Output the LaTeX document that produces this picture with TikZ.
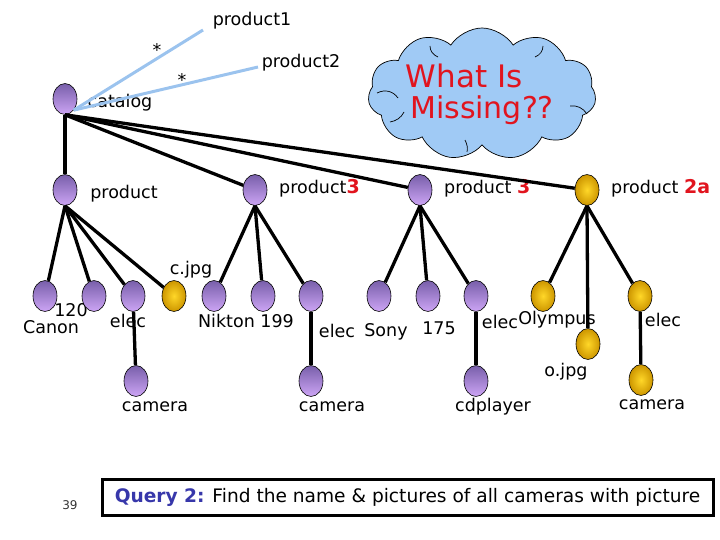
\documentclass[tikz,border=0pt]{standalone}
\usepackage{fontspec}
\setmainfont{DejaVu Sans}
\usetikzlibrary{shapes.geometric,shapes.symbols}
\definecolor{pdark}{RGB}{120,95,170}
\definecolor{plight}{RGB}{205,165,245}
\definecolor{ydark}{RGB}{205,150,0}
\definecolor{ylight}{RGB}{255,215,40}
\definecolor{lblue}{RGB}{155,195,238}
\definecolor{cloudblue}{RGB}{160,202,245}
\definecolor{redtxt}{RGB}{225,20,30}
\definecolor{qblue}{RGB}{55,55,170}
\begin{document}
\begin{tikzpicture}[x=1pt,y=-1pt,
  pnode/.style={ellipse,draw=black,line width=0.6pt,minimum width=24pt,minimum height=31pt,inner sep=0pt,top color=pdark,bottom color=plight},
  ynode/.style={ellipse,draw=black,line width=0.6pt,minimum width=24pt,minimum height=31pt,inner sep=0pt,inner color=ylight,outer color=ydark},
  edge/.style={line width=3.3pt},
  bline/.style={line width=3pt,draw=lblue},
  lab/.style={inner sep=0pt,font=\fontsize{17.5}{19}\selectfont},
  inarc/.style={line width=0.7pt},
]
\useasboundingbox (0,0) rectangle (720,540);
\newcommand{\rd}[1]{\textcolor{redtxt}{\bfseries\fontsize{19}{21}\selectfont #1}}
% labels
\node[lab] (l1) at (252,21) {product1};
\node[lab] (l2) at (301,63) {product2};
\node[lab] (st1) at (157,50) {*};
\node[lab] (st2) at (182,80) {*};
\node[lab] (lcat) at (120,103) {catalog};
\node[lab] (lprod) at (124,194) {product};
\node[lab,anchor=west] (lp3a) at (279,188) {product\rd{3}};
\node[lab,anchor=west] (lp3b) at (444,188) {product \rd{3}};
\node[lab,anchor=west] (lp2a) at (611,188) {product \rd{2a}};
\node[lab] (l120) at (71,310) {120};
\node[lab] (lcanon) at (51,327) {Canon};
\node[lab] (le1) at (128,321) {elec};
\node[lab] (lcj) at (191,270) {c.jpg};
\node[lab] (lnik) at (246,321) {Nikton 199};
\node[lab] (le2) at (337,331) {elec};
\node[lab] (lsony) at (386,332) {Sony};
\node[lab] (l175) at (439,328) {175};
\node[lab] (le3) at (500,322) {elec};
\node[lab] (loly) at (557,320) {Olympus};
\node[lab] (le4) at (663,320) {elec};
\node[lab] (loj) at (566,372) {o.jpg};
\node[lab] (lc1) at (155,407) {camera};
\node[lab] (lc2) at (332,407) {camera};
\node[lab] (lcd) at (493,407) {cdplayer};
\node[lab] (lc3) at (652,405) {camera};
% nodes
\node[pnode] (cat) at (65,99) {};
\node[pnode] (prod) at (65,190) {};
\node[pnode] (p3a) at (255,190) {};
\node[pnode] (p3b) at (420,190) {};
\node[ynode] (p2a) at (587,190) {};
\node[pnode] (canon) at (45,296) {};
\node[pnode] (n120) at (94,296) {};
\node[pnode] (e1) at (133,296) {};
\node[ynode] (cj) at (174,296) {};
\node[pnode] (nik) at (214,296) {};
\node[pnode] (n199) at (263,296) {};
\node[pnode] (e2) at (311,296) {};
\node[pnode] (sony) at (379,296) {};
\node[pnode] (n175) at (428,296) {};
\node[pnode] (e3) at (476,296) {};
\node[ynode] (oly) at (543,296) {};
\node[ynode] (oj) at (588,344) {};
\node[ynode] (e4) at (640,296) {};
\node[pnode] (c1) at (136,381) {};
\node[pnode] (c2) at (311,381) {};
\node[pnode] (cd) at (476,381) {};
\node[ynode] (c3) at (641,380) {};
% edges
\draw[edge] (cat.south) -- (prod);
\draw[edge] (cat.south) -- (p3a);
\draw[edge] (cat.south) -- (p3b);
\draw[edge] (cat.south) -- (p2a);
\foreach \c in {canon,n120,e1,cj} \draw[edge] (prod.south) -- (\c);
\foreach \c in {nik,n199,e2} \draw[edge] (p3a.south) -- (\c);
\foreach \c in {sony,n175,e3} \draw[edge] (p3b.south) -- (\c);
\foreach \c in {oly,oj,e4} \draw[edge] (p2a.south) -- (\c);
\draw[edge] (e1) -- (c1);
\draw[edge] (e2) -- (c2);
\draw[edge] (e3) -- (cd);
\draw[edge] (e4) -- (c3);
% light blue
\coordinate (p1end) at (203,30);
\coordinate (p2end) at (258,67);
\draw[bline] (cat.south east) -- (p1end);
\draw[bline] (cat.south east) -- (p2end);
% cloud
\node[cloud,cloud puffs=11,cloud puff arc=115,aspect=1.8,draw=black,line width=0.7pt,fill=cloudblue,minimum width=228pt,minimum height=132pt] (cloud) at (482,94) {};
\draw[inarc] (377,93) .. controls (385,89) and (393,91) .. (398,98);
\draw[inarc] (430,46) .. controls (430,51) and (433,55) .. (438,57);
\draw[inarc] (543,46) .. controls (543,51) and (540,55) .. (535,57);
\draw[inarc] (570,106) .. controls (577,105) and (583,108) .. (587,114);
\draw[inarc] (465,140) .. controls (467,144) and (468,148) .. (467,152);
\draw[inarc] (390,122) .. controls (396,121) and (401,118) .. (404,112);
\node[inner sep=0pt,text=redtxt,font=\fontsize{31}{33}\selectfont] (w1) at (464,76) {What Is};
\node[inner sep=0pt,text=redtxt,font=\fontsize{30}{32}\selectfont] (w2) at (482,110) {Missing??};
% query box
\node[draw=black,line width=3pt,minimum width=611pt,minimum height=36pt,inner sep=0pt,font=\fontsize{18.6}{20}\selectfont] (q) at (407.5,497) {\textcolor{qblue}{\bfseries Query 2:} Find the name \& pictures of all cameras with picture};
\node[inner sep=0pt,font=\fontsize{12}{14}\selectfont,text=black!80] (pg) at (70,505) {39};
\end{tikzpicture}
\end{document}
